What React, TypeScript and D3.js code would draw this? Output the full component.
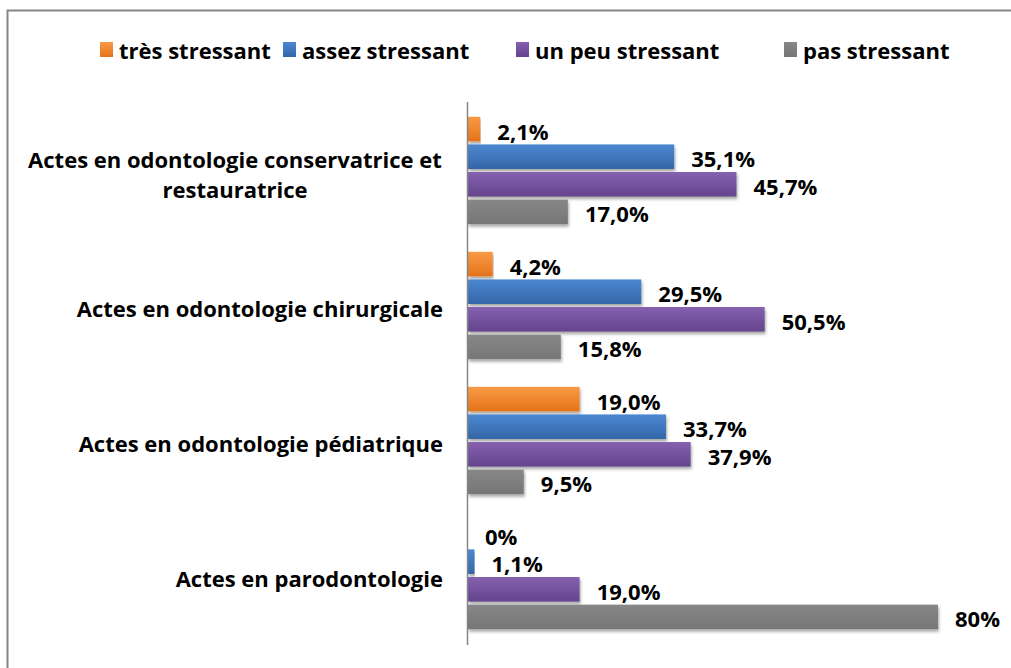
import * as d3 from "d3";

const categories = [
  ["Actes en odontologie conservatrice et", "restauratrice"],
  ["Actes en odontologie chirurgicale"],
  ["Actes en odontologie pédiatrique"],
  ["Actes en parodontologie"],
];
const seriesNames = ["très stressant", "assez stressant", "un peu stressant", "pas stressant"];
const tresValues = [2.1, 4.2, 19.0, 0];
const assezValues = [35.1, 29.5, 33.7, 1.1];
const peuValues = [45.7, 50.5, 37.9, 19.0];
const pasValues = [17.0, 15.8, 9.5, 80];
const tresLabels = ["2,1%", "4,2%", "19,0%", "0%"];
const assezLabels = ["35,1%", "29,5%", "33,7%", "1,1%"];
const peuLabels = ["45,7%", "50,5%", "37,9%", "19,0%"];
const pasLabels = ["17,0%", "15,8%", "9,5%", "80%"];

const seriesValues = [tresValues, assezValues, peuValues, pasValues];
const seriesLabels = [tresLabels, assezLabels, peuLabels, pasLabels];

// top / bottom gradient stops for each series
const colors = [
  ["#f99a45", "#e4731a"],
  ["#4c88d2", "#3466a8"],
  ["#8561b0", "#64448c"],
  ["#878787", "#767676"],
];

const W = 1011;
const H = 668;
const FONT = "'Open Sans', Lato, sans-serif";
const FS = 22;

export default function App() {
  const x = d3.scaleLinear().domain([0, 80]).range([468, 938]);
  const y = d3
    .scaleBand<number>()
    .domain(d3.range(categories.length))
    .range([103, 643]);
  const inner = d3
    .scaleBand<number>()
    .domain(d3.range(seriesNames.length))
    .range([0, y.bandwidth()])
    .paddingOuter(0.5)
    .paddingInner(0.11);
  const step = inner.step();

  const legendX = [100, 283, 516, 784];

  return (
    <svg
      width={W}
      height={H}
      style={{ position: "absolute", left: 0, top: 0, background: "#fff" }}
      fontFamily={FONT}
    >
      <defs>
        {colors.map((c, i) => (
          <linearGradient key={i} id={`g${i}`} x1="0" y1="0" x2="0" y2="1">
            <stop offset="0" stopColor={c[0]} />
            <stop offset="1" stopColor={c[1]} />
          </linearGradient>
        ))}
        <filter id="sh" x="-5%" y="-30%" width="110%" height="180%">
          <feDropShadow dx="1" dy="2.5" stdDeviation="1.5" floodColor="#000" floodOpacity="0.35" />
        </filter>
      </defs>

      {/* chart border */}
      <rect x={7.5} y={10.5} width={1010} height={670} fill="none" stroke="#868686" strokeWidth={2} />

      {/* legend */}
      {seriesNames.map((s, i) => (
        <g key={s}>
          <rect x={legendX[i]} y={42} width={13} height={15} fill={`url(#g${i})`} />
          <text
            x={legendX[i] + 19}
            y={50}
            dominantBaseline="central"
            fontSize={FS}
            fontWeight="bold"
            fill="#000"
          >
            {s}
          </text>
        </g>
      ))}

      {/* bars */}
      {categories.map((_, ci) =>
        seriesValues.map((vals, si) => {
          const y0 = (y(ci) ?? 0) + (inner(si) ?? 0);
          const h = inner.bandwidth();
          return (
            <g key={`${ci}-${si}`}>
              {vals[ci] > 0 && (
                <rect
                  x={x(0)}
                  y={y0}
                  width={x(vals[ci]) - x(0)}
                  height={h}
                  fill={`url(#g${si})`}
                  filter="url(#sh)"
                />
              )}
              <text
                x={x(vals[ci]) + 17}
                y={y0 + step / 2}
                dominantBaseline="central"
                fontSize={FS}
                fontWeight="bold"
                fill="#000"
              >
                {seriesLabels[si][ci]}
              </text>
            </g>
          );
        })
      )}

      {/* axis */}
      <line x1={467.5} x2={467.5} y1={102} y2={645} stroke="#868686" strokeWidth={1.5} />

      {/* category labels */}
      {categories.map((lines, ci) => {
        const cy = (y(ci) ?? 0) + y.bandwidth() / 2;
        const lh = 30;
        if (lines.length === 1) {
          return (
            <text
              key={ci}
              x={443}
              y={cy + 2}
              textAnchor="end"
              dominantBaseline="central"
              fontSize={FS}
              fontWeight="bold"
            >
              {lines[0]}
            </text>
          );
        }
        return (
          <text key={ci} x={235} textAnchor="middle" fontSize={FS} fontWeight="bold" dominantBaseline="central">
            {lines.map((l, li) => (
              <tspan key={li} x={235} y={cy + (li - (lines.length - 1) / 2) * lh + 3}>
                {l}
              </tspan>
            ))}
          </text>
        );
      })}
    </svg>
  );
}
